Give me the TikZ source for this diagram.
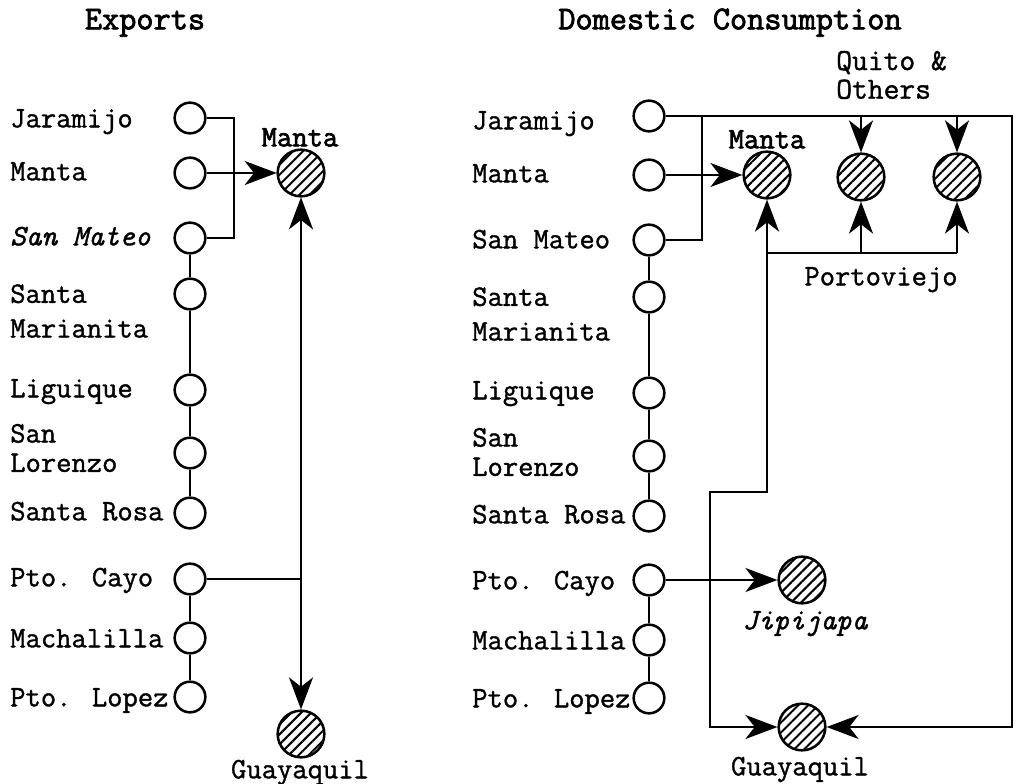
\documentclass[tikz,border=0pt]{standalone}
\usepackage{fontspec}
\setmainfont{Latin Modern Mono}[FakeBold=1.2]
\newfontfamily\boldtt{Latin Modern Mono}[FakeBold=2.4]
\usetikzlibrary{arrows.meta,patterns.meta}
\begin{document}
\begin{tikzpicture}[x=0.75pt,y=-0.75pt,
  conn/.style={line width=1.9pt},
  tip/.tip={Stealth[length=24pt,width=18pt,inset=7pt]},
  arr/.style={conn,-tip},
  arrboth/.style={conn,tip-tip},
  port/.style={circle,draw,line width=1.9pt,minimum size=23pt,inner sep=0pt},
  city/.style={circle,draw,line width=1.9pt,minimum size=35pt,inner sep=0pt,
    pattern={Lines[angle=45,distance=5.3pt,line width=1.5pt]}},
  lbl/.style={font=\fontsize{22.3}{26}\selectfont,anchor=west,inner sep=0pt,
    text height=15pt,text depth=4pt},
  lbltwo/.style={font=\fontsize{22.3}{26}\selectfont,anchor=west,inner sep=0pt,align=left},
  lbltwob/.style={font=\fontsize{22.3}{22}\selectfont,anchor=west,inner sep=0pt,align=left},
  clbl/.style={font=\fontsize{22.3}{26}\selectfont,inner sep=0pt,text height=15pt,text depth=4pt},
  title/.style={font=\boldtt\fontsize{25}{28}\selectfont,inner sep=0pt,text height=16pt,text depth=5pt}]
\useasboundingbox (0,0) rectangle (1016,784);

% titles
\node[title] (tE) at (145,22) {Exports};
\node[title] (tD) at (730,22) {Domestic Consumption};

% ---------- left panel ----------
\node[lbl] (lJarL) at (10,120) {Jaramijo};
\node[lbl] (lManL) at (10,173) {Manta};
\node[lbl,font=\fontsize{22.3}{26}\selectfont\itshape] (lSmL) at (10,238) {San Mateo};
\node[lbltwo] (lMarL) at (10,311) {Santa\\Marianita};
\node[lbl] (lLigL) at (10,390) {Liguique};
\node[lbltwob] (lLorL) at (10,448) {San\\Lorenzo};
\node[lbl] (lRosL) at (10,513) {Santa Rosa};
\node[lbl] (lCayL) at (10,579) {Pto. Cayo};
\node[lbl] (lMacL) at (10,640) {Machalilla};
\node[lbl] (lLopL) at (10,699) {Pto. Lopez};

\node[port] (jarL) at (190,118) {};
\node[port] (manL) at (190,173) {};
\node[port] (smL) at (190,238) {};
\node[port] (marL) at (190,294) {};
\node[port] (ligL) at (190,390) {};
\node[port] (lorL) at (190,453) {};
\node[port] (rosL) at (190,513) {};
\node[port] (cayL) at (190,579) {};
\node[port] (macL) at (190,638) {};
\node[port] (lopL) at (190,697) {};

\node[city] (mantaL) at (301,173) {};
\node[city] (guayL) at (301,734) {};
\node[clbl,font=\boldtt\fontsize{22.3}{26}\selectfont] (mantaLt) at (300,139) {Manta};
\node[clbl] (guayLt) at (300,771) {Guayaquil};

\coordinate (bxL) at (234,0);
\draw[conn] (jarL.east) -- (jarL.east -| bxL) -- (smL.east -| bxL) -- (smL.east);
\draw[arr] (manL) -- (mantaL);
\draw[conn] (smL) -- (marL) -- (ligL) -- (lorL) -- (rosL);
\draw[conn] (cayL) -- (macL) -- (lopL);
\draw[arrboth] (mantaL) -- (guayL);
\draw[conn] (cayL) -- (cayL -| mantaL);

% ---------- right panel ----------
\node[lbl] (lJarR) at (472,122) {Jaramijo};
\node[lbl] (lManR) at (472,175) {Manta};
\node[lbl] (lSmR) at (472,241) {San Mateo};
\node[lbltwo] (lMarR) at (472,314) {Santa\\Marianita};
\node[lbl] (lLigR) at (472,392) {Liguique};
\node[lbltwob] (lLorR) at (472,452) {San\\Lorenzo};
\node[lbl] (lRosR) at (472,516) {Santa Rosa};
\node[lbl] (lCayR) at (472,582) {Pto. Cayo};
\node[lbl] (lMacR) at (472,642) {Machalilla};
\node[lbl] (lLopR) at (472,700) {Pto. Lopez};

\node[port] (jarR) at (649,116) {};
\node[port] (manR) at (649,175) {};
\node[port] (smR) at (649,240) {};
\node[port] (marR) at (649,297) {};
\node[port] (ligR) at (649,393) {};
\node[port] (lorR) at (649,456) {};
\node[port] (rosR) at (649,516) {};
\node[port] (cayR) at (649,580) {};
\node[port] (macR) at (649,640) {};
\node[port] (lopR) at (649,698) {};

\node[city] (mantaR) at (767,175) {};
\node[city] (quitoR) at (861,177) {};
\node[city] (othR) at (957,177) {};
\node[city] (jipR) at (802,580) {};
\node[city] (guayR) at (802,727) {};

\node[clbl,font=\boldtt\fontsize{22.3}{26}\selectfont] (mantaRt) at (767,141) {Manta};
\node[font={\fontsize{23}{21.5}\selectfont},align=left,anchor=west,inner sep=0pt] (quitoT) at (836,75) {Quito \&\\Others};
\node[clbl] (portT) at (881,278) {Portoviejo};
\node[clbl,font=\fontsize{22.3}{26}\selectfont\itshape] (jipT) at (805,622) {Jipijapa};
\node[clbl] (guayRt) at (800,768) {Guayaquil};

\coordinate (bxR) at (702,0);
\coordinate (rx) at (1012,0);
\coordinate (pv) at (0,253);
\coordinate (kink) at (710,492);

\draw[conn] (smR.east) -- (smR.east -| bxR) -- (jarR.east -| bxR);
\draw[arr] (jarR.east) -- (jarR.east -| rx) -- (guayR -| rx) -- (guayR);
\draw[arr] (quitoR |- jarR) -- (quitoR);
\draw[arr] (othR |- jarR) -- (othR);
\draw[arr] (manR) -- (mantaR);
\draw[conn] (smR) -- (marR) -- (ligR) -- (lorR) -- (rosR);
\draw[conn] (cayR) -- (macR) -- (lopR);
\draw[conn] (mantaR |- pv) -- (othR |- pv);
\draw[arr] (quitoR |- pv) -- (quitoR);
\draw[arr] (othR |- pv) -- (othR);
\draw[arrboth] (mantaR) -- (mantaR |- kink) -- (kink) |- (guayR);
\draw[arr] (cayR) -- (jipR);
\end{tikzpicture}
\end{document}
